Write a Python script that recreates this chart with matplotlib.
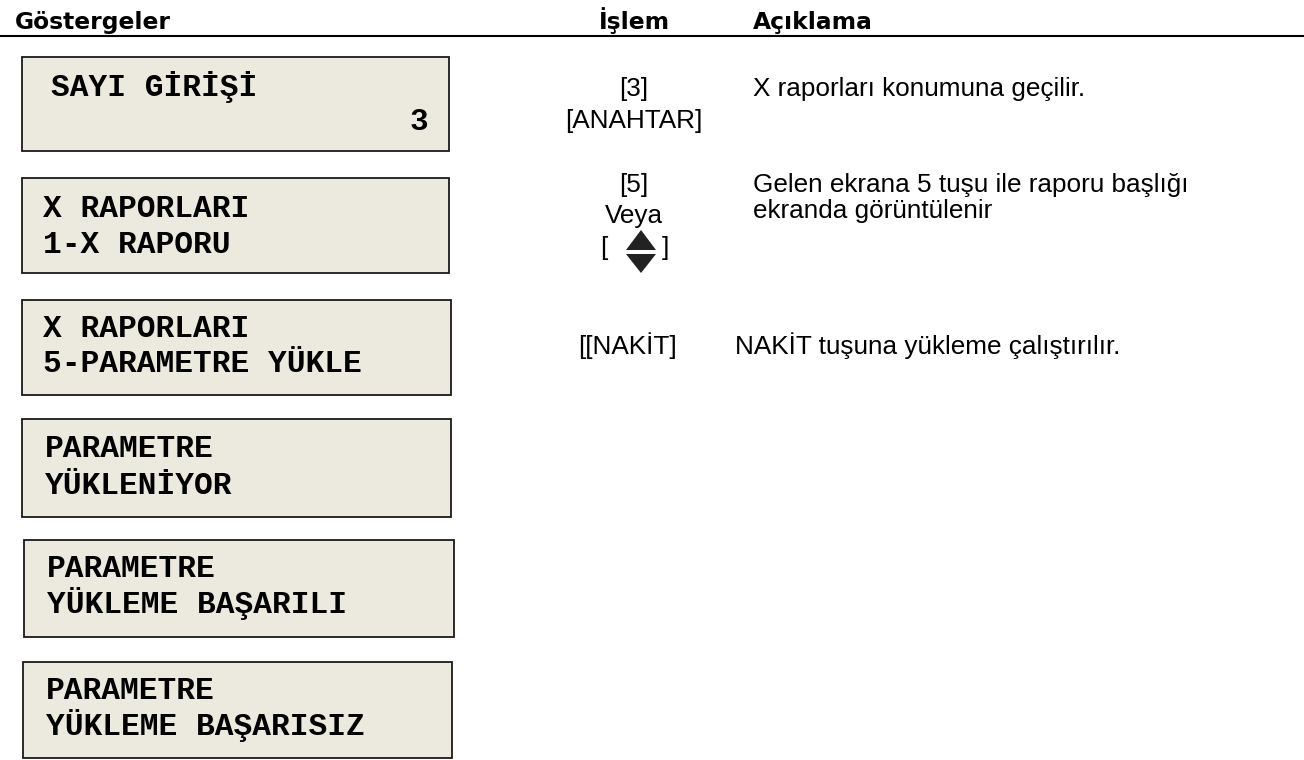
import matplotlib.pyplot as plt
from matplotlib.patches import Rectangle, Polygon

# column headers
headers = ["Göstergeler", "İşlem", "Açıklama"]

# what the display shows, one entry per screen (line 1, line 2)
screens = [
    ["SAYI GİRİŞİ", "3"],
    ["X RAPORLARI", "1-X RAPORU"],
    ["X RAPORLARI", "5-PARAMETRE YÜKLE"],
    ["PARAMETRE", "YÜKLENİYOR"],
    ["PARAMETRE", "YÜKLEME BAŞARILI"],
    ["PARAMETRE", "YÜKLEME BAŞARISIZ"],
]

# key presses and explanations per step
operations = [
    ["[3]", "[ANAHTAR]"],
    ["[5]", "Veya"],
    ["[[NAKİT]"],
]
descriptions = [
    ["X raporları konumuna geçilir."],
    ["Gelen ekrana 5 tuşu ile raporu başlığı", "ekranda görüntülenir"],
    ["NAKİT tuşuna yükleme çalıştırılır."],
]

# layout in pixels (figure is 1304 x 760, y grows downwards)
box_rects = [(22, 57, 449, 151), (22, 178, 449, 273), (22, 300, 451, 395),
             (22, 419, 451, 517), (24, 540, 454, 637), (23, 662, 452, 758)]
screen_x = [51, 43, 43, 45, 47, 46]
screen_base = [(96, 130), (217, 253), (337, 372), (457, 494), (577, 613), (699, 735)]
op_x = [634, 634, 627]
op_base = [[96, 128], [192, 223], [354]]
desc_x = [753, 753, 735]
desc_base = [[96], [192, 218], [354]]

BOX_FILL = "#ECE9DF"
MONO = "Liberation Mono"
SANS = "Liberation Sans"

fig = plt.figure(figsize=(13.04, 7.6), dpi=100)
ax = fig.add_axes([0, 0, 1, 1])
ax.set_xlim(0, 1304)
ax.set_ylim(760, 0)
ax.axis("off")

# header row
hdr = dict(family="DejaVu Sans", weight="bold", fontsize=16.8, va="baseline", color="black")
ax.text(15, 29, headers[0], ha="left", **hdr)
ax.text(634, 29, headers[1], ha="center", **hdr)
ax.text(753, 29, headers[2], ha="left", **hdr)
ax.plot([0, 1304], [35.5, 35.5], color="black", lw=1.5, solid_capstyle="butt")

# display boxes
for i, (lines, rect) in enumerate(zip(screens, box_rects)):
    x0, y0, x1, y1 = rect
    ax.add_patch(Rectangle((x0, y0), x1 - x0, y1 - y0, facecolor=BOX_FILL,
                           edgecolor="#1a1a1a", lw=1.3))
    b1, b2 = screen_base[i]
    ax.text(screen_x[i], b1, lines[0], family=MONO, weight="bold", fontsize=22.5,
            ha="left", va="baseline")
    if i == 0:
        # the number sits right-aligned on line 2
        ax.text(428, b2, lines[1], family=MONO, weight="bold", fontsize=22.5,
                ha="right", va="baseline")
    else:
        ax.text(screen_x[i], b2, lines[1], family=MONO, weight="bold", fontsize=22.5,
                ha="left", va="baseline")

# middle column (key presses)
for ops, x, bases in zip(operations, op_x, op_base):
    for txt, b in zip(ops, bases):
        ax.text(x, b, txt, family=SANS, fontsize=18.8, ha="center", va="baseline")

# up/down arrow key icon between brackets
ax.text(604, 255, "[", family=SANS, fontsize=18.8, ha="center", va="baseline")
ax.text(665, 255, "]", family=SANS, fontsize=18.8, ha="center", va="baseline")
ax.add_patch(Polygon([(626, 250), (641, 230), (656, 250)], closed=True,
                     facecolor="#222222", edgecolor="none"))
ax.add_patch(Polygon([(626, 254), (656, 254), (641, 273)], closed=True,
                     facecolor="#222222", edgecolor="none"))

# right column (explanations)
for lines, x, bases in zip(descriptions, desc_x, desc_base):
    for txt, b in zip(lines, bases):
        ax.text(x, b, txt, family=SANS, fontsize=18.8, ha="left", va="baseline")

fig.savefig("out.png", dpi=100)
